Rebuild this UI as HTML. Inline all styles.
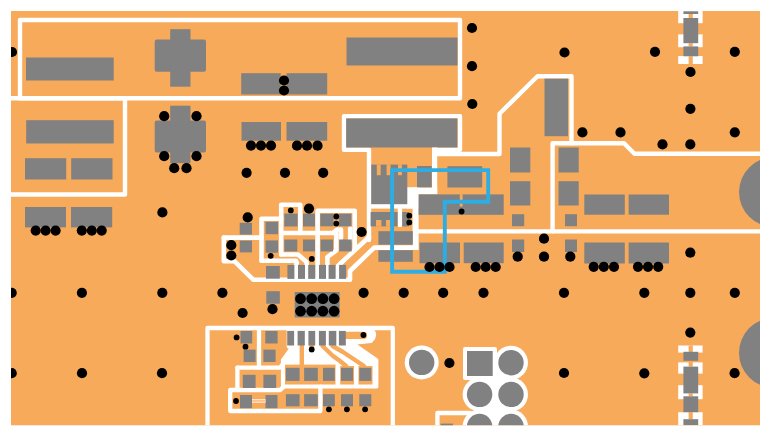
<!DOCTYPE html>
<html lang="en"><head><meta charset="utf-8"><title>PCB layout</title>
<style>html,body{margin:0;padding:0;background:#fff;}body{width:771px;height:437px;overflow:hidden;}svg{display:block;}</style>
</head><body>
<svg width="771" height="437" viewBox="0 0 771 437">
<defs><clipPath id="board"><rect x="11" y="11" width="749" height="414.3"/></clipPath></defs>
<rect x="11" y="11" width="749" height="414.3" fill="#f8aa5b"/>
<g clip-path="url(#board)">
<circle cx="773.9" cy="192.1" r="34.9" fill="#818182"/>
<circle cx="773.9" cy="352.8" r="34.9" fill="#818182"/>
<path d="M20.0,20.0 L460.0,20.0 L460.0,98.3 L20.0,98.3 Z" fill="none" stroke="#fff" stroke-width="4.4" stroke-linejoin="round" stroke-linecap="round"/>
<path d="M8.0,98.3 L125.0,98.3 L125.0,194.5 L8.0,194.5" fill="none" stroke="#fff" stroke-width="4.4" stroke-linejoin="round" stroke-linecap="round"/>
<rect x="26.0" y="57.5" width="87.7" height="23.0" fill="#818182"/>
<rect x="154.7" y="39.5" width="51.3" height="32.2" fill="#818182" rx="2"/>
<rect x="170.2" y="29.2" width="20.3" height="57.5" fill="#818182"/>
<rect x="241.2" y="73.2" width="39.5" height="21.3" fill="#818182"/>
<rect x="286.5" y="73.2" width="40.7" height="21.3" fill="#818182"/>
<rect x="346.5" y="37.5" width="111.0" height="28.0" fill="#818182"/>
<rect x="26.2" y="120.2" width="87.5" height="23.3" fill="#818182"/>
<rect x="25.0" y="158.2" width="41.2" height="21.3" fill="#818182"/>
<rect x="71.2" y="158.2" width="41.3" height="21.3" fill="#818182"/>
<rect x="25.0" y="207.0" width="41.0" height="20.4" fill="#818182"/>
<rect x="71.0" y="207.0" width="41.2" height="20.4" fill="#818182"/>
<rect x="154.7" y="120.5" width="51.3" height="32.0" fill="#818182" rx="2"/>
<rect x="170.2" y="105.7" width="20.3" height="57.5" fill="#818182"/>
<rect x="241.5" y="122.0" width="39.5" height="18.7" fill="#818182"/>
<rect x="286.5" y="122.0" width="40.7" height="18.7" fill="#818182"/>
<path d="M369.0,240.0 L369.0,149.7 L344.0,149.7 L344.0,116.3 L460.0,116.3 L460.0,149.7 L434.7,149.7" fill="none" stroke="#fff" stroke-width="4.4" stroke-linejoin="round" stroke-linecap="round"/>
<rect x="346.2" y="118.4" width="111.1" height="29.1" fill="#818182"/>
<path d="M434.7,192.0 L434.7,154.0 L499.5,154.0 L499.5,113.7 L537.5,76.2 L571.5,76.2 L571.5,143.2" fill="none" stroke="#fff" stroke-width="4.4" stroke-linejoin="round" stroke-linecap="round"/>
<path d="M552.6,231.3 L552.6,143.2 L624.0,143.2 L634.5,153.8 L765.0,153.8" fill="none" stroke="#fff" stroke-width="4.4" stroke-linejoin="round" stroke-linecap="round"/>
<path d="M416.0,231.4 L765.0,231.4" fill="none" stroke="#fff" stroke-width="4.4" stroke-linejoin="round" stroke-linecap="round"/>
<rect x="544.5" y="78.7" width="23.5" height="57.5" fill="#818182"/>
<rect x="510.0" y="147.5" width="20.3" height="25.0" fill="#818182"/>
<rect x="510.0" y="181.2" width="20.3" height="24.3" fill="#818182"/>
<rect x="512.0" y="214.2" width="12.2" height="12.0" fill="#818182"/>
<rect x="558.5" y="147.5" width="20.2" height="25.0" fill="#818182"/>
<rect x="558.5" y="181.2" width="20.2" height="24.3" fill="#818182"/>
<rect x="565.0" y="214.2" width="12.0" height="12.0" fill="#818182"/>
<rect x="584.3" y="194.5" width="40.5" height="20.2" fill="#818182"/>
<rect x="628.6" y="194.5" width="40.4" height="20.2" fill="#818182"/>
<rect x="419.5" y="242.5" width="40.5" height="20.7" fill="#818182"/>
<rect x="463.7" y="242.5" width="40.0" height="20.7" fill="#818182"/>
<rect x="512.0" y="239.5" width="12.2" height="12.5" fill="#818182"/>
<rect x="565.0" y="239.5" width="12.0" height="12.5" fill="#818182"/>
<rect x="584.3" y="242.5" width="40.5" height="21.0" fill="#818182"/>
<rect x="628.6" y="242.5" width="40.4" height="21.0" fill="#818182"/>
<rect x="432.0" y="147.5" width="5.2" height="46.5" fill="#fff"/>
<rect x="407.0" y="187.5" width="30.2" height="6.7" fill="#fff"/>
<rect x="407.0" y="187.5" width="11.6" height="21.0" fill="#fff"/>
<rect x="412.6" y="187.5" width="6.0" height="62.5" fill="#fff"/>
<rect x="371.0" y="204.0" width="41.6" height="4.6" fill="#fff"/>
<rect x="371.3" y="164.6" width="36.0" height="39.6" fill="#818182"/>
<rect x="376.8" y="164.4" width="3.9" height="10.8" fill="#f8aa5b"/>
<rect x="386.6" y="164.4" width="3.9" height="10.8" fill="#f8aa5b"/>
<rect x="398.0" y="164.4" width="3.9" height="10.8" fill="#f8aa5b"/>
<rect x="417.0" y="166.0" width="14.7" height="21.3" fill="#818182"/>
<rect x="447.4" y="166.2" width="34.8" height="21.3" fill="#818182"/>
<rect x="418.6" y="194.4" width="85.1" height="20.4" fill="#818182"/>
<rect x="459.8" y="194.2" width="2.8" height="12.3" fill="#f8aa5b"/>
<rect x="397.7" y="206.0" width="4.4" height="21.0" fill="#fff" rx="1.5"/>
<rect x="370.6" y="212.0" width="27.0" height="14.4" fill="#818182"/>
<rect x="376.0" y="220.0" width="5.4" height="6.6" fill="#f8aa5b"/>
<rect x="386.0" y="220.0" width="4.0" height="6.6" fill="#f8aa5b"/>
<rect x="402.2" y="212.0" width="6.8" height="14.4" fill="#818182"/>
<rect x="378.4" y="231.2" width="34.4" height="13.5" fill="#818182"/>
<rect x="378.4" y="250.2" width="34.4" height="11.6" fill="#818182"/>
<path d="M223.8,237.6 L261.5,237.6" fill="none" stroke="#fff" stroke-width="4.6" stroke-linejoin="round" stroke-linecap="round"/>
<path d="M223.8,237.6 L223.8,261.3 L234.6,261.3 L253.5,279.8 L350.0,279.8 L350.0,271.0 L374.2,247.6 L416.0,247.6" fill="none" stroke="#fff" stroke-width="4.6" stroke-linejoin="round" stroke-linecap="round"/>
<path d="M261.5,260.5 L261.5,218.8 L281.2,218.8" fill="none" stroke="#fff" stroke-width="4.6" stroke-linejoin="round" stroke-linecap="round"/>
<path d="M281.2,254.5 L281.2,204.8 L300.3,204.8 L300.3,233.0" fill="none" stroke="#fff" stroke-width="4.6" stroke-linejoin="round" stroke-linecap="round"/>
<path d="M281.2,233.0 L333.0,233.0 L337.0,229.5 L341.0,229.5 L341.0,238.0" fill="none" stroke="#fff" stroke-width="4.6" stroke-linejoin="round" stroke-linecap="round"/>
<path d="M261.5,260.8 L296.0,260.8 L297.0,263.0" fill="none" stroke="#fff" stroke-width="4.6" stroke-linejoin="round" stroke-linecap="round"/>
<path d="M281.2,254.5 L298.0,254.5 L306.6,262.0 L306.6,279.0" fill="none" stroke="#fff" stroke-width="4.6" stroke-linejoin="round" stroke-linecap="round"/>
<path d="M317.6,279.0 L317.6,210.8 L354.7,210.8 L354.7,250.0" fill="none" stroke="#fff" stroke-width="4.6" stroke-linejoin="round" stroke-linecap="round"/>
<path d="M336.3,233.0 L336.3,250.5 L327.4,257.0 L327.4,279.0" fill="none" stroke="#fff" stroke-width="4.6" stroke-linejoin="round" stroke-linecap="round"/>
<path d="M350.2,228.5 L350.2,240.0" fill="none" stroke="#fff" stroke-width="4.6" stroke-linejoin="round" stroke-linecap="round"/>
<path d="M369.0,237.0 L341.5,262.5 L337.5,266.5 L337.5,279.0" fill="none" stroke="#fff" stroke-width="4.6" stroke-linejoin="round" stroke-linecap="round"/>
<path d="M296.2,264.0 L296.2,279.0" fill="none" stroke="#fff" stroke-width="4.6" stroke-linejoin="round" stroke-linecap="round"/>
<rect x="239.7" y="222.8" width="12.3" height="11.8" fill="#818182"/>
<rect x="239.7" y="240.6" width="12.3" height="11.8" fill="#818182"/>
<rect x="265.5" y="221.8" width="12.5" height="12.4" fill="#818182"/>
<rect x="265.5" y="240.4" width="12.5" height="12.3" fill="#818182"/>
<rect x="284.3" y="213.6" width="13.3" height="12.9" fill="#818182"/>
<rect x="303.0" y="213.6" width="12.0" height="12.9" fill="#818182"/>
<rect x="320.3" y="213.8" width="13.3" height="12.5" fill="#818182"/>
<rect x="339.0" y="213.8" width="12.4" height="12.5" fill="#818182"/>
<rect x="284.3" y="239.5" width="13.0" height="11.9" fill="#818182"/>
<rect x="303.0" y="239.5" width="12.0" height="11.9" fill="#818182"/>
<rect x="320.6" y="239.5" width="12.4" height="11.9" fill="#818182"/>
<rect x="339.2" y="239.5" width="12.5" height="11.9" fill="#818182"/>
<rect x="266.0" y="266.0" width="13.8" height="12.7" fill="#818182"/>
<rect x="287.4" y="264.9" width="7.0" height="14.0" fill="#818182"/>
<rect x="298.0" y="264.9" width="7.0" height="14.0" fill="#818182"/>
<rect x="308.2" y="264.9" width="7.0" height="14.0" fill="#818182"/>
<rect x="319.0" y="264.9" width="7.0" height="14.0" fill="#818182"/>
<rect x="328.6" y="264.9" width="7.0" height="14.0" fill="#818182"/>
<rect x="339.1" y="264.9" width="7.0" height="14.0" fill="#818182"/>
<rect x="266.3" y="291.2" width="13.5" height="12.5" fill="#818182"/>
<rect x="294.7" y="292.0" width="44.9" height="25.5" fill="#818182"/>
<path d="M207.5,430.0 L207.5,328.0 L392.8,328.0 L392.8,430.0" fill="none" stroke="#fff" stroke-width="4.3" stroke-linejoin="round" stroke-linecap="round"/>
<path d="M288.6,330 L372,330 Q377,335 371,341 L352,343 L376.5,360 L376.5,386.7 L282.8,386.7 L282.8,360 L292.5,346.5 L288.6,346.5 Z" fill="#fff" stroke="#fff" stroke-width="3.8" stroke-linejoin="round"/>
<rect x="285.0" y="364.6" width="50.5" height="19.9" fill="#f8aa5b"/>
<rect x="340.2" y="366.0" width="13.8" height="18.5" fill="#f8aa5b"/>
<rect x="358.5" y="366.0" width="14.0" height="18.5" fill="#f8aa5b"/>
<path d="M301.8,346.0 L301.8,366.0" fill="none" stroke="#f8aa5b" stroke-width="4.4" stroke-linejoin="round" stroke-linecap="round"/>
<path d="M347.0,335.4 L363.4,335.4" fill="none" stroke="#f8aa5b" stroke-width="7.4" stroke-linejoin="round" stroke-linecap="round"/>
<path d="M322.5,346.0 L333.0,356.0 L340.0,361.0 L346.0,366.0" fill="none" stroke="#f8aa5b" stroke-width="4.4" stroke-linejoin="round" stroke-linecap="round"/>
<path d="M332.5,346.0 L343.0,352.0 L352.0,358.0 L364.0,366.0" fill="none" stroke="#f8aa5b" stroke-width="4.4" stroke-linejoin="round" stroke-linecap="round"/>
<path d="M311.7,346.0 L311.7,350.0" fill="none" stroke="#f8aa5b" stroke-width="5" stroke-linejoin="round" stroke-linecap="round"/>
<path d="M259.0,328.0 L259.0,367.6 L280.0,367.6 L293.0,352.0" fill="none" stroke="#fff" stroke-width="4.3" stroke-linejoin="round" stroke-linecap="round"/>
<path d="M237.4,367.6 L259.0,367.6" fill="none" stroke="#fff" stroke-width="4.3" stroke-linejoin="round" stroke-linecap="round"/>
<path d="M237.4,367.6 L237.4,390.0 L230.2,390.0 L230.2,411.0 L320.4,411.0 L320.4,386.7" fill="none" stroke="#fff" stroke-width="4.3" stroke-linejoin="round" stroke-linecap="round"/>
<path d="M237.4,390.0 L280.2,390.0 L284.0,386.7" fill="none" stroke="#fff" stroke-width="4.3" stroke-linejoin="round" stroke-linecap="round"/>
<rect x="240.5" y="331.0" width="11.7" height="12.5" fill="#818182"/>
<rect x="265.3" y="331.0" width="12.3" height="12.5" fill="#818182"/>
<rect x="243.6" y="349.6" width="12.0" height="12.4" fill="#818182"/>
<rect x="263.4" y="349.6" width="12.2" height="12.4" fill="#818182"/>
<rect x="242.8" y="374.8" width="12.8" height="13.2" fill="#818182"/>
<rect x="263.4" y="374.8" width="12.8" height="13.2" fill="#818182"/>
<rect x="240.0" y="395.0" width="12.0" height="13.2" fill="#818182"/>
<rect x="265.5" y="395.0" width="12.0" height="13.2" fill="#818182"/>
<rect x="252.0" y="399.3" width="13.5" height="3.3" fill="#fff"/>
<rect x="252.0" y="400.3" width="13.5" height="1.3" fill="#f8aa5b"/>
<rect x="287.2" y="330.9" width="6.9" height="14.6" fill="#818182"/>
<rect x="297.6" y="330.9" width="7.2" height="14.6" fill="#818182"/>
<rect x="308.4" y="330.9" width="6.8" height="14.6" fill="#818182"/>
<rect x="318.9" y="330.9" width="7.0" height="14.6" fill="#818182"/>
<rect x="328.8" y="330.9" width="7.5" height="14.6" fill="#818182"/>
<rect x="338.9" y="330.9" width="6.9" height="14.6" fill="#818182"/>
<rect x="285.9" y="367.8" width="13.7" height="13.1" fill="#818182"/>
<rect x="285.9" y="394.2" width="13.7" height="12.1" fill="#818182"/>
<rect x="304.1" y="367.8" width="13.7" height="13.1" fill="#818182"/>
<rect x="304.1" y="394.2" width="13.7" height="12.1" fill="#818182"/>
<rect x="323.0" y="367.8" width="11.8" height="13.1" fill="#818182"/>
<rect x="323.0" y="394.2" width="11.8" height="12.1" fill="#818182"/>
<rect x="341.0" y="367.8" width="12.0" height="13.1" fill="#818182"/>
<rect x="341.0" y="394.2" width="12.0" height="12.1" fill="#818182"/>
<rect x="359.3" y="367.8" width="12.0" height="13.1" fill="#818182"/>
<rect x="359.3" y="394.2" width="12.0" height="12.1" fill="#818182"/>
<circle cx="421.7" cy="362.4" r="17" fill="#fff"/>
<circle cx="511.0" cy="362.7" r="17" fill="#fff"/>
<circle cx="479.6" cy="394.4" r="17" fill="#fff"/>
<circle cx="511.0" cy="394.4" r="17" fill="#fff"/>
<circle cx="479.6" cy="426.4" r="17" fill="#fff"/>
<circle cx="511.0" cy="426.4" r="17" fill="#fff"/>
<rect x="463.0" y="347.0" width="34.0" height="33.0" fill="#fff" rx="2"/>
<rect x="479.6" y="362.0" width="31.4" height="68.0" fill="#fff"/>
<path d="M437.4,430.0 L437.4,413.0 L470.0,413.0" fill="none" stroke="#fff" stroke-width="4.3" stroke-linejoin="round" stroke-linecap="round"/>
<circle cx="421.7" cy="362.4" r="12.7" fill="#818182"/>
<circle cx="511.0" cy="362.7" r="12.7" fill="#818182"/>
<circle cx="479.6" cy="394.4" r="12.7" fill="#818182"/>
<circle cx="511.0" cy="394.4" r="12.7" fill="#818182"/>
<circle cx="479.6" cy="426.4" r="12.7" fill="#818182"/>
<circle cx="511.0" cy="426.4" r="12.7" fill="#818182"/>
<rect x="467.0" y="351.0" width="25.7" height="25.0" fill="#818182"/>
<rect x="440.6" y="423.6" width="12.4" height="2.4" fill="#818182"/>
<rect x="678.2" y="11.0" width="24.4" height="12.2" fill="#fff"/>
<rect x="678.2" y="34.4" width="24.4" height="12.8" fill="#fff"/>
<rect x="678.2" y="56.0" width="24.4" height="8.0" fill="#fff"/>
<rect x="688.6" y="14.0" width="4.2" height="4.0" fill="#f8aa5b"/>
<rect x="688.6" y="43.2" width="4.2" height="3.2" fill="#f8aa5b"/>
<rect x="688.6" y="56.3" width="4.2" height="7.7" fill="#f8aa5b"/>
<rect x="683.4" y="11.3" width="14.8" height="2.7" fill="#818182"/>
<rect x="683.4" y="18.0" width="14.8" height="25.2" fill="#818182"/>
<rect x="683.4" y="46.4" width="14.8" height="9.9" fill="#818182"/>
<rect x="678.2" y="345.5" width="24.4" height="7.1" fill="#fff"/>
<rect x="678.2" y="362.4" width="24.4" height="11.2" fill="#fff"/>
<rect x="678.2" y="385.2" width="24.4" height="14.0" fill="#fff"/>
<rect x="678.2" y="412.2" width="24.4" height="13.1" fill="#fff"/>
<rect x="688.6" y="345.5" width="4.2" height="6.5" fill="#f8aa5b"/>
<rect x="688.6" y="360.8" width="4.2" height="5.8" fill="#f8aa5b"/>
<rect x="688.6" y="393.4" width="4.2" height="2.9" fill="#f8aa5b"/>
<rect x="688.6" y="412.2" width="4.2" height="7.0" fill="#f8aa5b"/>
<rect x="683.4" y="351.8" width="14.8" height="9.0" fill="#818182"/>
<rect x="683.4" y="366.6" width="14.8" height="26.8" fill="#818182"/>
<rect x="683.4" y="396.3" width="14.8" height="15.9" fill="#818182"/>
<rect x="683.4" y="419.2" width="14.8" height="6.1" fill="#818182"/>
<path d="M392.1,170.1 L488.2,170.1 L488.2,201.8 L444.8,201.8 L444.8,271.7 L392.1,271.7 Z" fill="none" stroke="#2eade3" stroke-width="3.9" stroke-linejoin="miter" stroke-linecap="round"/>
<circle cx="12.0" cy="52.0" r="5.1" fill="#000"/>
<circle cx="284.0" cy="80.5" r="5.1" fill="#000"/>
<circle cx="284.0" cy="90.5" r="5.1" fill="#000"/>
<circle cx="472.0" cy="28.0" r="5.1" fill="#000"/>
<circle cx="472.0" cy="66.2" r="5.1" fill="#000"/>
<circle cx="472.3" cy="104.0" r="5.1" fill="#000"/>
<circle cx="564.5" cy="52.5" r="5.1" fill="#000"/>
<circle cx="655.0" cy="51.8" r="5.1" fill="#000"/>
<circle cx="734.8" cy="51.8" r="5.1" fill="#000"/>
<circle cx="690.5" cy="72.0" r="5.1" fill="#000"/>
<circle cx="690.4" cy="108.8" r="5.1" fill="#000"/>
<circle cx="582.4" cy="132.4" r="5.1" fill="#000"/>
<circle cx="620.5" cy="132.4" r="5.1" fill="#000"/>
<circle cx="662.5" cy="144.4" r="5.1" fill="#000"/>
<circle cx="690.3" cy="144.4" r="5.1" fill="#000"/>
<circle cx="734.8" cy="132.3" r="5.1" fill="#000"/>
<circle cx="164.2" cy="116.2" r="5.1" fill="#000"/>
<circle cx="196.5" cy="116.2" r="5.1" fill="#000"/>
<circle cx="164.2" cy="156.2" r="5.1" fill="#000"/>
<circle cx="196.5" cy="156.2" r="5.1" fill="#000"/>
<circle cx="174.2" cy="168.2" r="5.1" fill="#000"/>
<circle cx="186.5" cy="168.2" r="5.1" fill="#000"/>
<circle cx="251.0" cy="145.6" r="5.1" fill="#000"/>
<circle cx="261.0" cy="145.6" r="5.1" fill="#000"/>
<circle cx="271.0" cy="145.6" r="5.1" fill="#000"/>
<circle cx="297.0" cy="145.7" r="5.1" fill="#000"/>
<circle cx="307.0" cy="145.7" r="5.1" fill="#000"/>
<circle cx="317.5" cy="145.7" r="5.1" fill="#000"/>
<circle cx="246.6" cy="172.8" r="5.1" fill="#000"/>
<circle cx="285.0" cy="172.8" r="5.1" fill="#000"/>
<circle cx="323.2" cy="172.8" r="5.1" fill="#000"/>
<circle cx="162.4" cy="212.4" r="5.1" fill="#000"/>
<circle cx="309.0" cy="208.6" r="5.1" fill="#000"/>
<circle cx="247.7" cy="217.4" r="5.1" fill="#000"/>
<circle cx="231.3" cy="245.2" r="5.1" fill="#000"/>
<circle cx="231.3" cy="255.5" r="5.1" fill="#000"/>
<circle cx="361.6" cy="232.0" r="5.1" fill="#000"/>
<circle cx="35.7" cy="230.6" r="5.1" fill="#000"/>
<circle cx="45.6" cy="230.6" r="5.1" fill="#000"/>
<circle cx="55.6" cy="230.6" r="5.1" fill="#000"/>
<circle cx="81.8" cy="230.6" r="5.1" fill="#000"/>
<circle cx="91.8" cy="230.6" r="5.1" fill="#000"/>
<circle cx="101.7" cy="230.6" r="5.1" fill="#000"/>
<circle cx="242.6" cy="313.0" r="5.1" fill="#000"/>
<circle cx="272.5" cy="309.2" r="5.1" fill="#000"/>
<circle cx="449.4" cy="363.0" r="5.1" fill="#000"/>
<circle cx="564.0" cy="373.0" r="5.1" fill="#000"/>
<circle cx="644.3" cy="373.3" r="5.1" fill="#000"/>
<circle cx="734.6" cy="373.2" r="5.1" fill="#000"/>
<circle cx="11.7" cy="373.2" r="5.1" fill="#000"/>
<circle cx="82.0" cy="373.2" r="5.1" fill="#000"/>
<circle cx="162.0" cy="373.2" r="5.1" fill="#000"/>
<circle cx="690.3" cy="332.6" r="5.1" fill="#000"/>
<circle cx="429.5" cy="267.0" r="5.1" fill="#000"/>
<circle cx="439.5" cy="267.0" r="5.1" fill="#000"/>
<circle cx="449.5" cy="267.0" r="5.1" fill="#000"/>
<circle cx="475.7" cy="267.0" r="5.1" fill="#000"/>
<circle cx="485.7" cy="267.0" r="5.1" fill="#000"/>
<circle cx="495.7" cy="267.0" r="5.1" fill="#000"/>
<circle cx="517.7" cy="256.7" r="5.1" fill="#000"/>
<circle cx="544.0" cy="238.7" r="5.1" fill="#000"/>
<circle cx="544.0" cy="256.7" r="5.1" fill="#000"/>
<circle cx="570.3" cy="256.7" r="5.1" fill="#000"/>
<circle cx="593.7" cy="266.8" r="5.1" fill="#000"/>
<circle cx="603.8" cy="266.8" r="5.1" fill="#000"/>
<circle cx="614.0" cy="266.8" r="5.1" fill="#000"/>
<circle cx="638.0" cy="266.8" r="5.1" fill="#000"/>
<circle cx="648.0" cy="266.8" r="5.1" fill="#000"/>
<circle cx="658.2" cy="266.8" r="5.1" fill="#000"/>
<circle cx="690.3" cy="252.6" r="5.1" fill="#000"/>
<circle cx="11.7" cy="292.8" r="5.1" fill="#000"/>
<circle cx="81.9" cy="292.8" r="5.1" fill="#000"/>
<circle cx="162.3" cy="292.8" r="5.1" fill="#000"/>
<circle cx="222.4" cy="292.8" r="5.1" fill="#000"/>
<circle cx="363.6" cy="292.8" r="5.1" fill="#000"/>
<circle cx="403.7" cy="292.8" r="5.1" fill="#000"/>
<circle cx="443.2" cy="292.8" r="5.1" fill="#000"/>
<circle cx="483.5" cy="292.8" r="5.1" fill="#000"/>
<circle cx="564.0" cy="292.8" r="5.1" fill="#000"/>
<circle cx="644.3" cy="292.8" r="5.1" fill="#000"/>
<circle cx="690.3" cy="292.8" r="5.1" fill="#000"/>
<circle cx="734.8" cy="292.8" r="5.1" fill="#000"/>
<circle cx="300.5" cy="298.7" r="5.4" fill="#000"/>
<circle cx="300.5" cy="311.2" r="5.4" fill="#000"/>
<circle cx="311.7" cy="298.7" r="5.4" fill="#000"/>
<circle cx="311.7" cy="311.2" r="5.4" fill="#000"/>
<circle cx="322.9" cy="298.7" r="5.4" fill="#000"/>
<circle cx="322.9" cy="311.2" r="5.4" fill="#000"/>
<circle cx="334.1" cy="298.7" r="5.4" fill="#000"/>
<circle cx="334.1" cy="311.2" r="5.4" fill="#000"/>
<circle cx="290.8" cy="210.4" r="2.9" fill="#000"/>
<circle cx="336.3" cy="216.5" r="2.9" fill="#000"/>
<circle cx="336.3" cy="223.6" r="2.9" fill="#000"/>
<circle cx="270.7" cy="255.8" r="2.9" fill="#000"/>
<circle cx="311.8" cy="258.9" r="2.9" fill="#000"/>
<circle cx="409.3" cy="215.7" r="2.9" fill="#000"/>
<circle cx="409.3" cy="222.4" r="2.9" fill="#000"/>
<circle cx="461.6" cy="211.5" r="2.9" fill="#000"/>
<circle cx="236.6" cy="337.4" r="2.9" fill="#000"/>
<circle cx="245.5" cy="346.7" r="2.9" fill="#000"/>
<circle cx="236.0" cy="401.0" r="2.9" fill="#000"/>
<circle cx="311.7" cy="349.4" r="2.9" fill="#000"/>
<circle cx="363.4" cy="335.0" r="2.9" fill="#000"/>
<circle cx="328.9" cy="409.3" r="2.9" fill="#000"/>
<circle cx="346.9" cy="409.3" r="2.9" fill="#000"/>
<circle cx="365.1" cy="409.3" r="2.9" fill="#000"/>
</g>
</svg>
</body></html>
